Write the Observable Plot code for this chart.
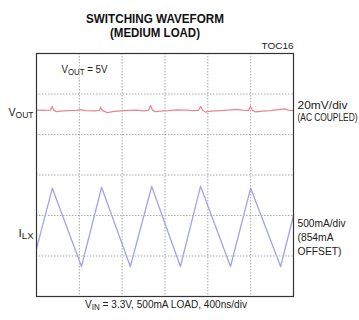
<!DOCTYPE html>
<html>
<head>
<meta charset="utf-8">
<script src="https://cdn.jsdelivr.net/npm/d3@7"></script>
<script src="https://cdn.jsdelivr.net/npm/@observablehq/plot@0.6"></script>
<style>
  html, body { margin: 0; padding: 0; background: #fff; }
  svg text { font-family: "Liberation Sans", Arial, sans-serif; }
</style>
</head>
<body>
<div id="chart"></div>
<script>
// ---- data ----
// time axis: 400 ns/div, 6 divisions
const xTicks = [0, 400, 800, 1200, 1600, 2000, 2400];
const yTicks = [0, 1, 2, 3, 4, 5, 6];

// V_OUT ripple (mV, AC coupled, 20mV/div)
const voutTime = [0, 75, 131, 147, 159, 187, 224, 299, 374, 411, 467, 542, 588, 598, 616, 663, 710, 784, 859, 934, 999, 1046, 1065, 1083, 1111, 1158, 1233, 1308, 1382, 1457, 1513, 1532, 1550, 1578, 1625, 1718, 1793, 1858, 1924, 1980, 1998, 2017, 2045, 2110, 2185, 2260, 2316, 2353, 2400];
const voutMV = [0.25, 0.1, 0.25, 2.1, 0.25, -0.5, -0.25, 0, 0.1, 0.5, 0, -0.15, 0.1, 1.7, 0, -1.0, -0.5, -0.1, 0.1, 0.25, -0.1, 0.1, 2.5, 0.25, -0.5, -0.25, 0, 0.4, 0.25, 0, 0.1, 2.1, 0.25, -0.75, -0.25, 0, 0.25, 0.6, 0.25, 0.1, 2.1, 0.1, -0.65, -0.25, 0, 0.5, 0.85, 0.25, 0];

// I_LX inductor current (mA, 500mA/div)
const ilxTime = [0, 148, 420, 608, 876, 1076, 1344, 1532, 1812, 2000, 2280, 2400];
const ilxMA = [589, 1337, 370, 1349, 370, 1358, 370, 1362, 370, 1337, 370, 1000];

// trace positions on screen (divisions from bottom)
const voutLevel = 4.59;
const mVperDiv = 20;
const mAperDiv = 500;

const voutData = voutTime.map((t, i) => ({t, y: voutLevel + voutMV[i] / mVperDiv}));
const ilxData = ilxTime.map((t, i) => ({t, y: ilxMA[i] / mAperDiv}));

const titleLines = ["SWITCHING WAVEFORM", "(MEDIUM LOAD)"];
const tocLabel = "TOC16";
const caption = "V{IN} = 3.3V, 500mA LOAD, 400ns/div";
const innerLabel = "V{OUT} = 5V";
const leftLabels = [{text: "V{OUT}", y: 4.55}, {text: "I{LX}", y: 1.56}];
const rightVout = ["20mV/div", "(AC COUPLED)"];
const rightIlx = "500mA/div\n(854mA\nOFFSET)";

// condensed look: target rendered width (px) of each text line
const lineWidths = {
  "SWITCHING WAVEFORM": 138, "(MEDIUM LOAD)": 90, "TOC16": 32,
  "VIN = 3.3V, 500mA LOAD, 400ns/div": 162, "VOUT = 5V": 46,
  "VOUT": 25, "ILX": 15, "20mV/div": 50, "(AC COUPLED)": 60,
  "500mA/div": 48, "(854mA": 36, "OFFSET)": 44
};

const plot = Plot.plot({
  width: 359,
  height: 320,
  marginLeft: 36,
  marginRight: 66,
  marginTop: 53,
  marginBottom: 24,
  x: {domain: [0, 2400], axis: null},
  y: {domain: [0, 6], axis: null},
  marks: [
    Plot.ruleX(xTicks.slice(1, -1), {stroke: "#aaa", strokeDasharray: "1.5,1.5", strokeWidth: 1}),
    Plot.ruleY(yTicks.slice(1, -1), {stroke: "#aaa", strokeDasharray: "1.5,1.5", strokeWidth: 1}),
    Plot.line(voutData, {x: "t", y: "y", stroke: "#ee8490", strokeWidth: 1.2}),
    Plot.line(ilxData, {x: "t", y: "y", stroke: "#a3a3e8", strokeWidth: 1.3}),
    Plot.frame({stroke: "#333", strokeWidth: 1.2}),
    Plot.text([titleLines[0]], {frameAnchor: "top", lineAnchor: "bottom", dy: -31, dx: -10, fontSize: 13.5, fontWeight: "bold", fill: "#111"}),
    Plot.text([titleLines[1]], {frameAnchor: "top", lineAnchor: "bottom", dy: -16.5, dx: -10, fontSize: 13.5, fontWeight: "bold", fill: "#111"}),
    Plot.text([tocLabel], {frameAnchor: "top-right", textAnchor: "end", lineAnchor: "bottom", dy: -5, fontSize: 9, fill: "#222"}),
    Plot.text([caption], {frameAnchor: "bottom", lineAnchor: "bottom", dy: 11, dx: 1, fontSize: 11, fill: "#222"}),
    Plot.text([innerLabel], {x: [234], y: [5.53], textAnchor: "start", lineAnchor: "bottom", fontSize: 11, fill: "#222"}),
    Plot.text(leftLabels, {x: () => 0, y: "y", text: "text", textAnchor: "end", dx: -3, fontSize: 11, fill: "#222"}),
    Plot.text([rightVout[0]], {x: [2400], y: [voutLevel], textAnchor: "start", lineAnchor: "bottom", dx: 4, dy: -2, fontSize: 11, fill: "#222"}),
    Plot.text([rightVout[1]], {x: [2400], y: [voutLevel], textAnchor: "end", lineAnchor: "bottom", dx: 4 + 60, dy: 10, fontSize: 11, fill: "#222"}),
    Plot.text([rightIlx], {x: [2400], y: [1.48], textAnchor: "start", dx: 4, fontSize: 11, lineHeight: 1.3, fill: "#222"})
  ]
});

document.getElementById("chart").appendChild(plot);

// line elements: a <text> without tspans, or a line <tspan>
const lineEls = [];
d3.select(plot).selectAll("text").each(function () {
  const kids = this.querySelectorAll("tspan");
  if (kids.length === 0) lineEls.push(this);
  else kids.forEach(k => lineEls.push(k));
});

for (const el of lineEls) {
  const s = el.textContent;
  const key = s.replace(/[{}]/g, "");
  if (s.includes("{")) {
    el.textContent = "";
    const parts = s.split(/(\{[^}]*\})/).filter(p => p.length);
    let lowered = false;
    for (const p of parts) {
      const ts = document.createElementNS("http://www.w3.org/2000/svg", "tspan");
      if (p.startsWith("{")) {
        ts.textContent = p.slice(1, -1);
        ts.setAttribute("dy", "0.3em");
        ts.setAttribute("font-size", "0.8em");
        lowered = true;
      } else {
        ts.textContent = p;
        if (lowered) { ts.setAttribute("dy", "-0.24em"); lowered = false; }
      }
      el.appendChild(ts);
    }
  }
  if (lineWidths[key]) {
    el.setAttribute("textLength", lineWidths[key]);
    el.setAttribute("lengthAdjust", "spacingAndGlyphs");
  }
}
</script>
</body>
</html>
